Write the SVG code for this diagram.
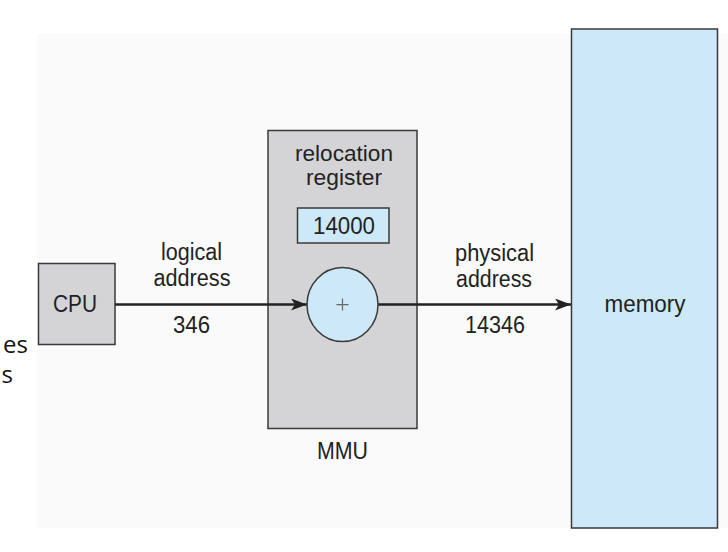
<svg xmlns="http://www.w3.org/2000/svg" width="728" height="552" viewBox="0 0 728 552">
  <style>
    .lbl { font-family: "Liberation Sans", Arial, sans-serif; font-size: 23px; fill: #222; text-anchor: middle; }
    .sm { font-size: 22px; }
    .box { stroke: #3a3a3a; stroke-width: 1.5; }
    .grey { fill: #d4d4d6; }
    .blue { fill: #cde8f6; }
    .conn { stroke: #222; stroke-width: 2.5; fill: none; }
    .slide { font-family: "Open Sans", "Noto Sans", sans-serif; font-size: 24px; fill: #111; text-anchor: end; }
  </style>
  <defs>
    <marker id="arrow" viewBox="0 0 16 12" refX="16" refY="6" markerWidth="16" markerHeight="12" markerUnits="userSpaceOnUse" orient="auto">
      <path d="M0,0 L16,6 L0,12 L4,6 Z" fill="#222"/>
    </marker>
  </defs>
  <rect x="0" y="0" width="728" height="552" fill="#ffffff"/>
  <rect x="37" y="34" width="691" height="494" fill="#fafafa"/>

  <g id="slide-text">
    <text class="slide" x="28" y="353">es</text>
    <text class="slide" x="13" y="383">s</text>
  </g>

  <g id="cpu">
    <rect class="box grey" x="38.5" y="263.5" width="76.5" height="81"/>
    <text class="lbl" x="75" y="312" textLength="44" lengthAdjust="spacingAndGlyphs">CPU</text>
  </g>

  <g id="logical-label">
    <text class="lbl" x="191.5" y="260" textLength="61" lengthAdjust="spacingAndGlyphs">logical</text>
    <text class="lbl" x="192" y="286" textLength="77" lengthAdjust="spacingAndGlyphs">address</text>
    <text class="lbl" x="191.5" y="333" textLength="37" lengthAdjust="spacingAndGlyphs">346</text>
  </g>

  <g id="mmu">
    <rect class="box grey" x="268" y="130.5" width="149" height="298"/>
    <text class="lbl sm" x="344" y="161" textLength="98" lengthAdjust="spacingAndGlyphs">relocation</text>
    <text class="lbl sm" x="344" y="185" textLength="76" lengthAdjust="spacingAndGlyphs">register</text>
    <text class="lbl" x="342.5" y="459" textLength="51" lengthAdjust="spacingAndGlyphs">MMU</text>
  </g>

  <g id="relocation-register">
    <rect class="box blue" x="297.5" y="208" width="91.5" height="35"/>
    <text class="lbl" x="344" y="234" textLength="62" lengthAdjust="spacingAndGlyphs">14000</text>
  </g>

  <g id="connectors">
    <line class="conn" x1="115" y1="304.5" x2="307" y2="304.5" marker-end="url(#arrow)"/>
    <line class="conn" x1="378" y1="304.5" x2="571" y2="304.5" marker-end="url(#arrow)"/>
  </g>

  <g id="adder">
    <ellipse class="box blue" cx="342.5" cy="304.6" rx="35.5" ry="37"/>
    <path d="M336.5,304.6 H348.5 M342.5,298.6 V310.6" stroke="#666" stroke-width="1.2" fill="none"/>
  </g>

  <g id="physical-label">
    <text class="lbl" x="494.5" y="261" textLength="79" lengthAdjust="spacingAndGlyphs">physical</text>
    <text class="lbl" x="494" y="287" textLength="76" lengthAdjust="spacingAndGlyphs">address</text>
    <text class="lbl" x="495" y="333" textLength="60" lengthAdjust="spacingAndGlyphs">14346</text>
  </g>

  <g id="memory">
    <rect class="box blue" x="571.5" y="29" width="146" height="499"/>
    <text class="lbl" x="645" y="312" textLength="81" lengthAdjust="spacingAndGlyphs">memory</text>
  </g>
</svg>
